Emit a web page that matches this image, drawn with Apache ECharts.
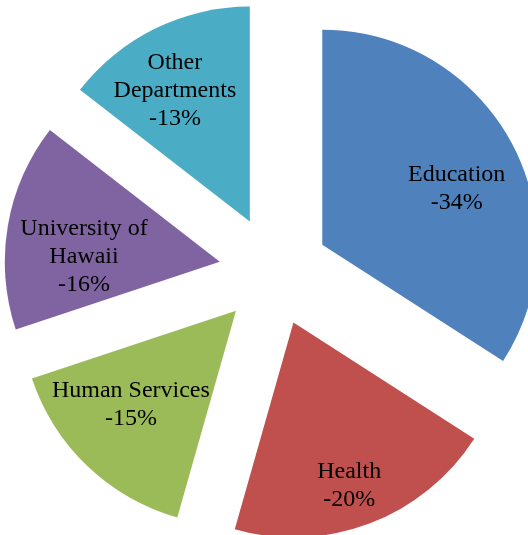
<!DOCTYPE html>
<html>
<head>
<meta charset="utf-8">
<script src="https://cdn.jsdelivr.net/npm/echarts@6/dist/echarts.min.js"></script>
<style>
  html, body { margin: 0; padding: 0; background: #fff; }
  #chart { width: 528px; height: 535px; }
</style>
</head>
<body>
<div id="chart"></div>
<script>
// 部门名称（标签中的换行照原图）
const departments = ['Education', 'Health', 'Human Services', 'University of\nHawaii', 'Other\nDepartments'];
// 扇区大小（按原图角度读出）
const shares = [34.1, 20.3, 15.5, 15.6, 14.5];
// 标签上显示的百分比
const pctLabels = [34, 20, 15, 16, 13];
const colors = ['#4F81BD', '#C0504D', '#9BBB59', '#8064A2', '#4BACC6'];
// 标签微调（像素）
const labelNudge = [[1, 17], [2, 21], [0, -16], [14, 21], [-8, 6]];

const chart = echarts.init(document.getElementById('chart'));

const sliceData = departments.map((name, i) => ({
  name: name,
  value: shares[i],
  selected: true,
  itemStyle: { color: colors[i] },
  select: { itemStyle: { color: colors[i] } },
}));

const labelData = departments.map((name, i) => ({
  name: name,
  value: shares[i],
  selected: true,
}));

const common = {
  type: 'pie',
  center: [274, 271],
  startAngle: 90,
  clockwise: true,
  selectedMode: 'multiple',
  selectedOffset: 55,
  animation: false,
  silent: true,
  emphasis: { disabled: true },
};

chart.setOption({
  animation: false,
  series: [
    {
      ...common,
      radius: [0, 215],
      data: sliceData,
      label: { show: false },
      labelLine: { show: false },
      itemStyle: { borderWidth: 0 },
    },
    {
      // 只用来放标签
      ...common,
      radius: [83, 215],
      data: labelData,
      itemStyle: { color: 'rgba(0,0,0,0)', borderWidth: 0 },
      select: { itemStyle: { color: 'rgba(0,0,0,0)', borderWidth: 0 } },
      labelLine: { show: false },
      labelLayout: function (p) {
        const n = labelNudge[p.dataIndex];
        return { dx: n[0], dy: n[1] };
      },
      label: {
        show: true,
        position: 'inside',
        color: '#000',
        fontFamily: '"Liberation Serif", "Times New Roman", serif',
        fontSize: 24,
        lineHeight: 28,
        align: 'center',
        formatter: function (p) {
          return p.name + '\n-' + pctLabels[p.dataIndex] + '%';
        },
      },
    },
  ],
});
</script>
</body>
</html>
